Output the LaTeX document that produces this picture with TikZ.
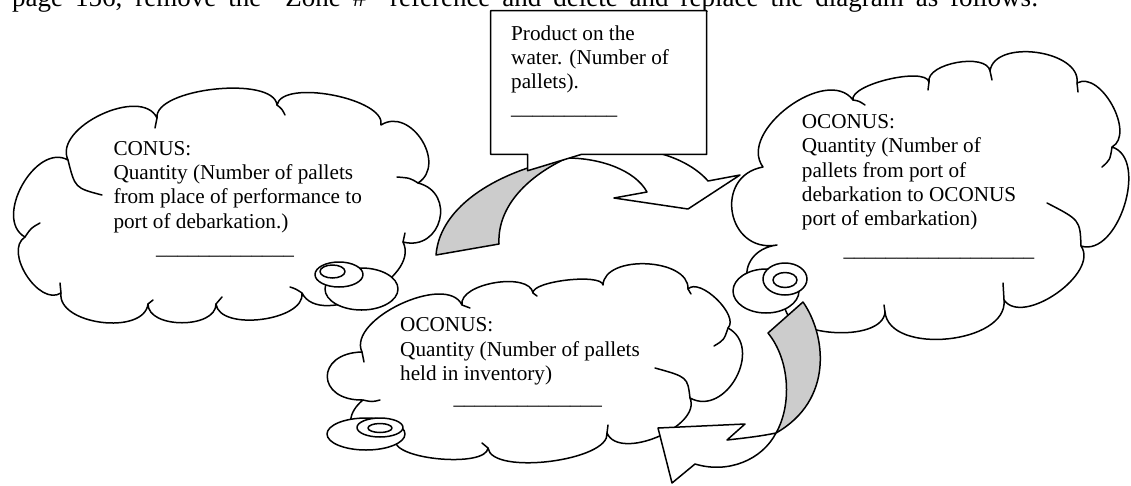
\documentclass[tikz,border=0pt]{standalone}
\usepackage{fontspec}
\setmainfont{Liberation Serif}
\usetikzlibrary{calc}
\definecolor{shade}{RGB}{204,204,204}
\newcommand\txtlines[1]{\vtop{\halign{##\hfil\cr #1\crcr}}}
\tikzset{
  bump/.style={to path={.. controls ($(\tikztostart)!#1!90:(\tikztotarget)$) and ($(\tikztotarget)!#1!-90:(\tikztostart)$) .. (\tikztotarget)}},
  cloudline/.style={draw=black, line width=1.5pt, line join=round},
  cloudbody/.style={cloudline, fill=white},
  wrinkle/.style={draw=black, line width=1.5pt, line cap=round},
  bubble/.style={cloudline, fill=white},
  backband/.style={cloudline, fill=shade},
  frontband/.style={cloudline, fill=white},
  txt/.style={inner sep=0pt, anchor=base west, font=\fontsize{21.2}{24.4}\selectfont},
}
\begin{document}
\begin{tikzpicture}[x=1pt,y=-1pt]
\useasboundingbox (0,0) rectangle (1131,485);
\clip (0,0) rectangle (1131,485);
\fill[white] (0,0) rectangle (1131,485);

% heading line (justified, cut off at the top)
\node[inner sep=0pt, anchor=base west, font=\fontsize{27}{31}\selectfont] (head) at (-33,6)
  {\makebox[1071.4pt][s]{On page 156, remove the “Zone \#” reference and delete and replace the diagram as follows:}};

% ---------- left cloud (CONUS) ----------
\path[cloudbody] (25,237) to[bump=37pt] (68,160) to[bump=36pt] (157,118) to[bump=30pt] (277,105)
  to[bump=27pt] (381,125) to[bump=35pt] (418,183) to[bump=40pt] (403,242) to[bump=41pt] (302,293)
  to[bump=28pt] (216,304) to[bump=25pt] (148,304) to[bump=32pt] (61,293) to[bump=26pt] (25,237) -- cycle;
\draw[wrinkle] (68,160) .. controls (75,188) .. (102,195);
\draw[wrinkle] (157,118) .. controls (155.5,123) .. (155,128);
\draw[wrinkle] (277,105) .. controls (282,109) .. (285,115);
\draw[wrinkle] (418,183) .. controls (410,178) .. (397,177);
\draw[wrinkle] (403,242) .. controls (404,237) .. (405,233);
\draw[wrinkle] (302,293) .. controls (296,289) .. (290,287);
\draw[wrinkle] (216,304) .. controls (219,300) .. (222,297);
\draw[wrinkle] (148,304) .. controls (150,302) .. (153,300);
\draw[wrinkle] (61,293) .. controls (60,288) .. (60,283);
\draw[wrinkle] (25,237) .. controls (31,228) .. (40,223);
\draw[bubble] (361.5,289) ellipse [x radius=36.5pt, y radius=21pt];
\draw[bubble] (339,274.5) ellipse [x radius=24pt, y radius=12.5pt];
\draw[bubble] (332.5,271.5) ellipse [x radius=12.5pt, y radius=6.5pt];

% ---------- right cloud (OCONUS transit) ----------
\path[cloudbody] (763,167) to[bump=44pt] (853,100) to[bump=16pt] (929,82) to[bump=19pt] (990,71)
  to[bump=33pt] (1077,83) to[bump=27pt] (1112,147) to[bump=39pt] (1081,246) to[bump=33pt] (1004,300)
  to[bump=44pt] (885,312) to[bump=32pt] (785,305) to[bump=46pt] (777,245) to[bump=51pt] (763,167) -- cycle;
\draw[wrinkle] (853,100) .. controls (859,101) .. (865,105);
\draw[wrinkle] (929,82) .. controls (929,86) .. (928,90);
\draw[wrinkle] (990,71) .. controls (991,75) .. (992,80);
\draw[wrinkle] (1077,83) .. controls (1078,87) .. (1078,92);
\draw[wrinkle] (1112,147) .. controls (1110,160) .. (1102,167);
\draw[wrinkle] (1081,246) .. controls (1080,220) .. (1047,203);
\draw[wrinkle] (1004,300) .. controls (1004,291) .. (1003,283);
\draw[wrinkle] (885,312) .. controls (884,308) .. (884,305);
\draw[bubble] (766,291) ellipse [x radius=33pt, y radius=22pt];
\draw[bubble] (785,279) ellipse [x radius=22pt, y radius=16pt];
\draw[bubble] (785,280) ellipse [x radius=12pt, y radius=7.5pt];

% ---------- bottom cloud (OCONUS inventory) ----------
\path[cloudbody] (362,352) to[bump=36pt] (462,305) to[bump=22pt] (533,293) to[bump=12pt] (603,285)
  to[bump=31pt] (688,289) to[bump=17pt] (728,328) to[bump=41pt] (690,398) to[bump=31pt] (607,433)
  to[bump=28pt] (488,448) to[bump=20pt] (395,440) to[bump=40pt] (363,400) to[bump=47pt] (362,352) -- cycle;
\draw[wrinkle] (362,352) .. controls (363,357) .. (364,362);
\draw[wrinkle] (462,305) .. controls (466,306) .. (470,308);
\draw[wrinkle] (533,293) .. controls (535,294) .. (537,296);
\draw[wrinkle] (688,289) .. controls (690,291) .. (691,294);
\draw[wrinkle] (728,328) .. controls (724,340) .. (714,346);
\draw[wrinkle] (690,398) .. controls (687.5,377) .. (655,368);
\draw[wrinkle] (607,433) .. controls (608,429) .. (608,425);
\draw[wrinkle] (488,448) .. controls (485,445) .. (482,443);
\draw[wrinkle] (363,400) .. controls (372,402) .. (380,400);
\draw[bubble] (366,434) ellipse [x radius=39pt, y radius=16pt];
\draw[bubble] (380,427.5) ellipse [x radius=23pt, y radius=9.5pt];
\draw[bubble] (380,428) ellipse [x radius=12pt, y radius=4.5pt];

% ---------- upper curved arrow ----------
\path[backband] (436,255) .. controls (440,205) and (500,170) .. (567,158)
  .. controls (530,175) and (497,205) .. (499,244) -- cycle;
\path[frontband] (567,158) .. controls (600,158) and (635,170) .. (647,192) -- (614,198) -- (688,209)
  -- (740,175) -- (708,181) .. controls (690,160) and (640,135) .. (567,158) -- cycle;

% ---------- lower curved arrow ----------
\path[backband] (768,333) -- (803,302) .. controls (826,335) and (834,400) .. (776,433)
  .. controls (792,405) and (790,360) .. (768,333) -- cycle;
\path[frontband] (776,433) .. controls (762,460) and (728,474) .. (695,464) -- (672,483) -- (658,428)
  -- (745,424) -- (727,440) .. controls (745,438) and (762,436) .. (776,433) -- cycle;

% ---------- callout box ----------
\path[cloudline, fill=white] (490.7,10.7) -- (706.7,10.7) -- (706.7,154.3) -- (581.7,154.3)
  -- (527.7,170.7) -- (527.7,154.3) -- (490.7,154.3) -- cycle;

% ---------- texts ----------
\node[txt] (water) at (511,40) {\txtlines{Product on the\cr water. (Number of\cr pallets).}};
\node[txt] (waterline) at (511,114.6) {\_\_\_\_\_\_\_\_\_\_};

\node[txt] (conus) at (113.3,155) {\txtlines{CONUS:\cr Quantity (Number of pallets\cr from place of performance to\cr port of debarkation.)}};
\node[txt] (conusline) at (156,254.6) {\_\_\_\_\_\_\_\_\_\_\_\_\_};

\node[txt] (transit) at (801.7,128.3) {\txtlines{OCONUS:\cr Quantity (Number of\cr pallets from port of\cr debarkation to OCONUS\cr port of embarkation)}};
\node[txt] (transitline) at (843.3,256.2) {\_\_\_\_\_\_\_\_\_\_\_\_\_\_\_\_\_\_};

\node[txt] (stock) at (400,331.7) {\txtlines{OCONUS:\cr Quantity (Number of pallets\cr held in inventory)}};
\node[txt] (stockline) at (453.3,404.6) {\_\_\_\_\_\_\_\_\_\_\_\_\_\_};
\end{tikzpicture}
\end{document}
